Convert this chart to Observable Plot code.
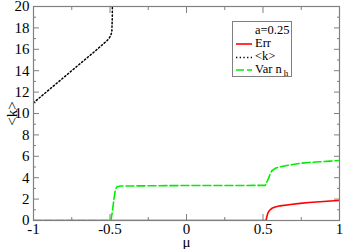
<!DOCTYPE html>
<html><head><meta charset="utf-8">
<script src="https://cdn.jsdelivr.net/npm/d3@7"></script>
<script src="https://cdn.jsdelivr.net/npm/@observablehq/plot@0.6"></script>
<style>
html,body{margin:0;padding:0;background:#fff;}
#wrap{position:relative;width:343px;height:249px;font-family:"Liberation Serif","Times New Roman",serif;}
#legend{position:absolute;left:232px;top:21px;width:60px;height:56px;border:1px solid #808080;background:#fff;font-size:12.5px;line-height:13px;box-sizing:border-box;}
#legend .row{position:absolute;left:0;width:100%;height:13px;}
#legend .lab{position:absolute;left:22px;}
#legend svg{position:absolute;left:3px;top:6px;}
</style>
</head><body>
<div id="wrap"></div>
<script>
// data
const muK = [-1, -0.9, -0.8, -0.7, -0.6, -0.52, -0.505, -0.495, -0.488, -0.485, -0.484];
const kVals = [11.0, 12.2, 13.4, 14.6, 15.8, 16.8, 17.05, 17.3, 17.6, 19, 21];

const muVar = [-1, -0.5, -0.494, -0.485, -0.475, -0.465, -0.455, -0.43, 0, 0.5, 0.515, 0.525, 0.536, 0.547, 0.558, 0.58, 0.612, 0.68, 0.743, 0.8, 0.873, 0.94, 1];
const varVals = [0, 0, 0, 0.8, 1.9, 2.9, 3.15, 3.22, 3.27, 3.28, 3.28, 3.6, 3.94, 4.35, 4.65, 4.88, 5.02, 5.2, 5.34, 5.42, 5.49, 5.55, 5.61];

const muErr = [-1, 0, 0.52, 0.525, 0.53, 0.536, 0.547, 0.558, 0.58, 0.612, 0.68, 0.743, 0.8, 0.873, 0.94, 1];
const errVals = [0, 0, 0, 0.35, 0.6, 0.82, 1.0, 1.14, 1.27, 1.37, 1.5, 1.6, 1.68, 1.75, 1.82, 1.87];

const xMajor = [-1, -0.5, 0, 0.5, 1];
const xMinor = [-0.75, -0.25, 0.25, 0.75];
const yMajor = [0, 2, 4, 6, 8, 10, 12, 14, 16, 18, 20];
const yMinor = [1, 3, 5, 7, 9, 11, 13, 15, 17, 19];

const kData = muK.map((m, i) => ({mu: m, v: kVals[i]}));
const varData = muVar.map((m, i) => ({mu: m, v: varVals[i]}));
const errData = muErr.map((m, i) => ({mu: m, v: errVals[i]}));

const grey = "#808080";
const serif = "Liberation Serif";
const tk = (fn, ticks, anchor, size) => fn(ticks, {anchor, tickSize: size, text: null, stroke: grey, label: null});
const chart = Plot.plot({
  width: 343, height: 249,
  marginLeft: 33, marginRight: 4, marginTop: 6, marginBottom: 29,
  style: {fontFamily: "'Liberation Serif', serif", fontSize: "14px", color: "#000", background: "#fff"},
  x: {domain: [-1, 1]},
  y: {domain: [0, 20]},
  marks: [
    // tick marks, inward, on all four sides
    tk(Plot.axisX, xMajor, "bottom", -6),
    tk(Plot.axisX, xMinor, "bottom", -3),
    tk(Plot.axisX, xMajor, "top", -6),
    tk(Plot.axisX, xMinor, "top", -3),
    tk(Plot.axisY, yMajor, "left", -6),
    tk(Plot.axisY, yMinor, "left", -3),
    tk(Plot.axisY, yMajor, "right", -6),
    tk(Plot.axisY, yMinor, "right", -3),
    // tick labels
    Plot.axisX(xMajor, {anchor: "bottom", tickSize: 0, tickPadding: 3, tickFormat: d => String(d), fill: "#000", fontSize: 15,
      label: "μ", labelAnchor: "center", labelArrow: "none", labelOffset: 26}),
    Plot.axisY(yMajor, {anchor: "left", tickSize: 0, tickPadding: 4, tickFormat: d => String(d), fill: "#000", fontSize: 15,
      label: "<k>", labelAnchor: "center", labelArrow: "none", labelOffset: 27}),
    Plot.line(errData, {x: "mu", y: "v", stroke: "#ff0000", strokeWidth: 1.6, clip: true}),
    Plot.line(kData, {x: "mu", y: "v", stroke: "#000", strokeWidth: 1.5, strokeDasharray: "1.3,2.4", clip: true}),
    Plot.line(varData, {x: "mu", y: "v", stroke: "#00ee00", strokeWidth: 1.6, strokeDasharray: "8,3", clip: true}),
    Plot.frame({stroke: grey, strokeWidth: 1.2})
  ]
});
chart.setAttribute("font-family", "Liberation Serif");
chart.style.fontFamily = "'Liberation Serif', serif";
chart.querySelectorAll("g, text").forEach(el => {
  el.removeAttribute("font-family");
  el.style.fontFamily = "'Liberation Serif', serif";
  el.style.fontVariant = "normal";
});
const wrap = document.getElementById("wrap");
wrap.appendChild(chart);

// legend
const legend = document.createElement("div");
legend.id = "legend";
legend.innerHTML = `
<div class="row" style="top:2px;"><span class="lab">a=0.25</span></div>
<div class="row" style="top:15px;"><svg width="18" height="2"><line x1="0" y1="1" x2="16" y2="1" stroke="#ff0000" stroke-width="1.6"/></svg><span class="lab">Err</span></div>
<div class="row" style="top:28px;"><svg width="18" height="3"><line x1="0" y1="1.5" x2="16" y2="1.5" stroke="#000" stroke-width="1.5" stroke-dasharray="1.3,2.4"/></svg><span class="lab">&lt;k&gt;</span></div>
<div class="row" style="top:41px;"><svg width="18" height="2"><line x1="0" y1="1" x2="16" y2="1" stroke="#00ee00" stroke-width="1.6" stroke-dasharray="8,3"/></svg><span class="lab">Var n<sub style="font-size:9px;vertical-align:-3px;margin-left:2px;">h</sub></span></div>`;
wrap.appendChild(legend);
</script>
</body></html>
